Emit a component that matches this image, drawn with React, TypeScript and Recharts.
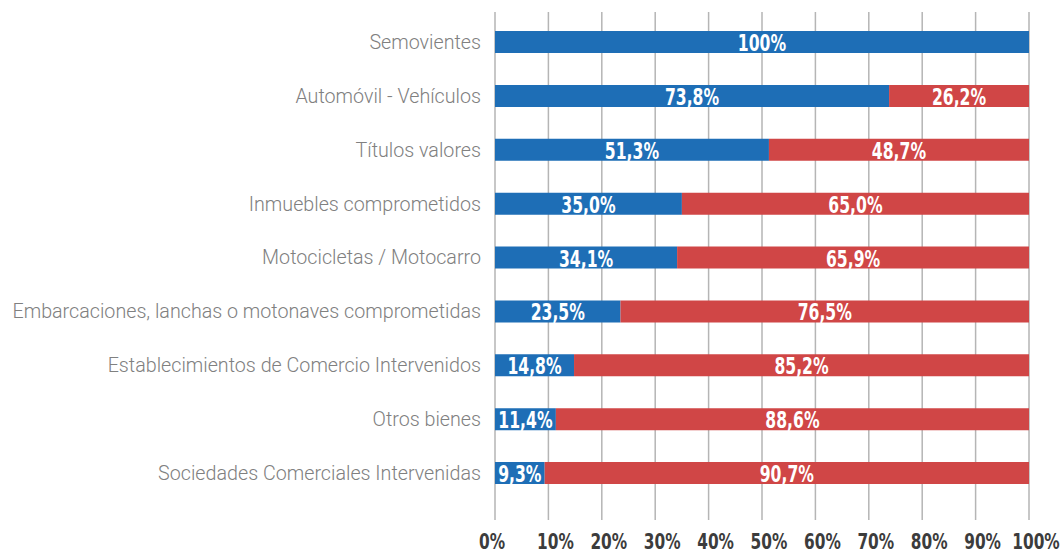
import { BarChart, Bar, XAxis, YAxis, CartesianGrid, LabelList } from "recharts";

const categories = [
  "Semovientes",
  "Automóvil - Vehículos",
  "Títulos valores",
  "Inmuebles comprometidos",
  "Motocicletas / Motocarro",
  "Embarcaciones, lanchas o motonaves comprometidas",
  "Establecimientos de Comercio Intervenidos",
  "Otros bienes",
  "Sociedades Comerciales Intervenidas",
];
const blueValues = [100, 73.8, 51.3, 35.0, 34.1, 23.5, 14.8, 11.4, 9.3];
const redValues = [0, 26.2, 48.7, 65.0, 65.9, 76.5, 85.2, 88.6, 90.7];
const xTicks = [0, 10, 20, 30, 40, 50, 60, 70, 80, 90, 100];

const data = categories.map((name, i) => ({ name, blue: blueValues[i], red: redValues[i] }));

// no condensed bold font installed, so squeeze DejaVu Bold horizontally
const BOLD_FONT = "'DejaVu Sans', sans-serif";

const fmt = (v: number) => {
  if (!v) return "";
  if (v === 100) return "100%";
  return v.toFixed(1).replace(".", ",") + "%";
};

function ValueLabel(props: any) {
  const { x, y, width, height, value } = props;
  const text = fmt(Number(value));
  if (!text) return null;
  const cx = Number(x) + Number(width) / 2;
  const cy = Number(y) + Number(height) / 2;
  return (
    <text
      transform={`translate(${cx},${cy + 9}) scale(0.68,1)`}
      textAnchor="middle"
      fill="#ffffff"
      fontFamily={BOLD_FONT}
      fontWeight={700}
      fontSize={23}
    >
      {text}
    </text>
  );
}

function PercentTick(props: any) {
  const { x, y, payload } = props;
  const shift = payload.value === 0 ? -3 : 7;
  return (
    <text
      transform={`translate(${x + shift},${y + 28.5}) scale(0.7,1)`}
      textAnchor="middle"
      fill="#3c3c3c"
      fontFamily={BOLD_FONT}
      fontWeight={700}
      fontSize={22}
    >
      {payload.value + "%"}
    </text>
  );
}

export default function App() {
  return (
    <div style={{ width: 1063, height: 554 }}>
      <style>{"body{margin:0}"}</style>
      <BarChart
        width={1063}
        height={554}
        data={data}
        layout="vertical"
        margin={{ top: 12, right: 34, bottom: 0, left: 0 }}
      >
        <CartesianGrid horizontal={false} stroke="#b5b5b5" strokeWidth={1.5} />
        <XAxis
          type="number"
          domain={[0, 100]}
          ticks={xTicks}
          interval={0}
          axisLine={false}
          tickLine={false}
          tickSize={0}
          tickMargin={0}
          height={34}
          tick={<PercentTick />}
        />
        <YAxis
          type="category"
          dataKey="name"
          width={495}
          axisLine={false}
          tickLine={false}
          tickSize={0}
          tickMargin={14}
          interval={0}
          padding={{ top: 3, bottom: 20 }}
          tick={{ fill: "#808080", fontFamily: "Roboto, sans-serif", fontWeight: 300, fontSize: 19.7 }}
        />
        <Bar dataKey="blue" stackId="a" fill="#1e6eb6" barSize={22} isAnimationActive={false}>
          <LabelList dataKey="blue" content={<ValueLabel />} />
        </Bar>
        <Bar dataKey="red" stackId="a" fill="#d04646" barSize={22} isAnimationActive={false}>
          <LabelList dataKey="red" content={<ValueLabel />} />
        </Bar>
      </BarChart>
    </div>
  );
}
